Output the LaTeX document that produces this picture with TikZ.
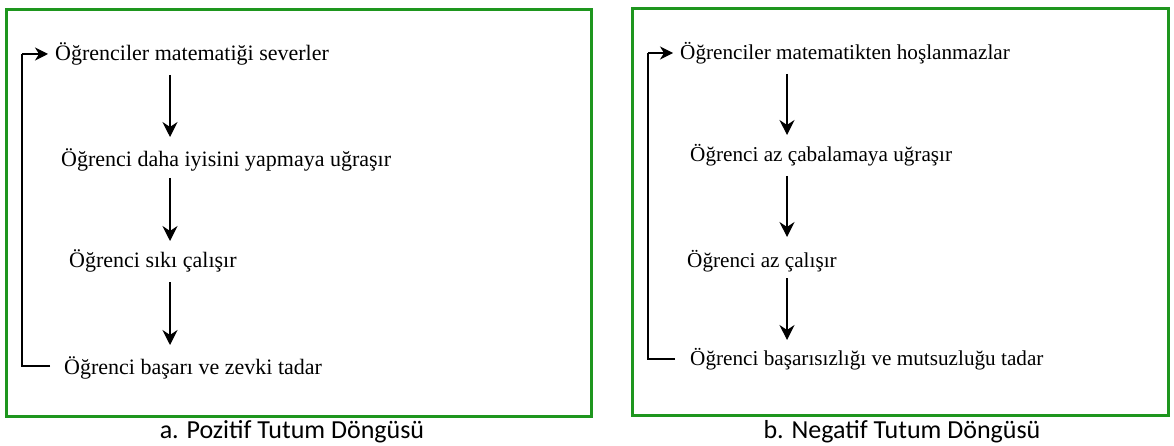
\documentclass[tikz,border=0pt]{standalone}
\usepackage{fontspec}
\setmainfont{Liberation Serif}
\newfontfamily\capfont{Carlito}
\usetikzlibrary{arrows.meta}
\definecolor{framegreen}{RGB}{30,150,30}
\tikzset{
  frame/.style={draw=framegreen, line width=3pt},
  stagetext/.style={anchor=west, inner sep=0pt, font=\fontsize{22}{24}\selectfont},
  stagetextb/.style={anchor=west, inner sep=0pt, font=\fontsize{21.2}{23}\selectfont},
  flow/.style={draw=black, line width=1.2pt, -{Stealth[length=15pt,width=15pt,inset=5pt]}},
  loopline/.style={draw=black, line width=1.2pt},
  looparrow/.style={draw=black, line width=1.2pt, shorten >=7pt, -{Stealth[length=13pt,width=13pt,inset=4pt]}},
  caption/.style={inner sep=0pt, font=\capfont\fontsize{26}{28}\selectfont}
}
\begin{document}
\begin{tikzpicture}[x=1pt,y=-1pt]
\useasboundingbox (0,0) rectangle (1174,446);
% frames
\draw[frame] (6,10) rectangle (591,416);
\draw[frame] (632,9) rectangle (1168,415);
% left panel
\node[stagetext] (a1) at (55,54) {Öğrenciler matematiği severler};
\node[stagetext] (a2) at (61,160) {Öğrenci daha iyisini yapmaya uğraşır};
\node[stagetext] (a3) at (69,261) {Öğrenci sıkı çalışır};
\node[stagetext] (a4) at (64,368) {Öğrenci başarı ve zevki tadar};
\coordinate (a1t) at (170,75);
\coordinate (a2b) at (170,137);
\coordinate (a2t) at (170,178);
\coordinate (a3b) at (170,241);
\coordinate (a3t) at (170,282);
\coordinate (a4b) at (170,345);
\draw[flow] (a1t) -- (a2b);
\draw[flow] (a2t) -- (a3b);
\draw[flow] (a3t) -- (a4b);
\coordinate (aL1) at (50,366);
\coordinate (aL2) at (22,366);
\coordinate (aL3) at (22,54);
\draw[loopline] (aL1) -- (aL2) -- (aL3);
\draw[looparrow] (aL3) -- (a1.west);
% right panel
\node[stagetextb] (b1) at (680,53) {Öğrenciler matematikten hoşlanmazlar};
\node[stagetextb] (b2) at (690,155) {Öğrenci az çabalamaya uğraşır};
\node[stagetextb] (b3) at (687,261) {Öğrenci az çalışır};
\node[stagetextb] (b4) at (690,359) {Öğrenci başarısızlığı ve mutsuzluğu tadar};
\coordinate (b1t) at (787,74);
\coordinate (b2b) at (787,135);
\coordinate (b2t) at (787,176);
\coordinate (b3b) at (787,237);
\coordinate (b3t) at (787,278);
\coordinate (b4b) at (787,340);
\draw[flow] (b1t) -- (b2b);
\draw[flow] (b2t) -- (b3b);
\draw[flow] (b3t) -- (b4b);
\coordinate (bL1) at (675,359);
\coordinate (bL2) at (648,359);
\coordinate (bL3) at (648,53);
\draw[loopline] (bL1) -- (bL2) -- (bL3);
\draw[looparrow] (bL3) -- (b1.west);
% captions
\node[caption] (ca) at (292,432) {a. Pozitif Tutum Döngüsü};
\node[caption] (cb) at (902,432) {b. Negatif Tutum Döngüsü};
\end{tikzpicture}
\end{document}
